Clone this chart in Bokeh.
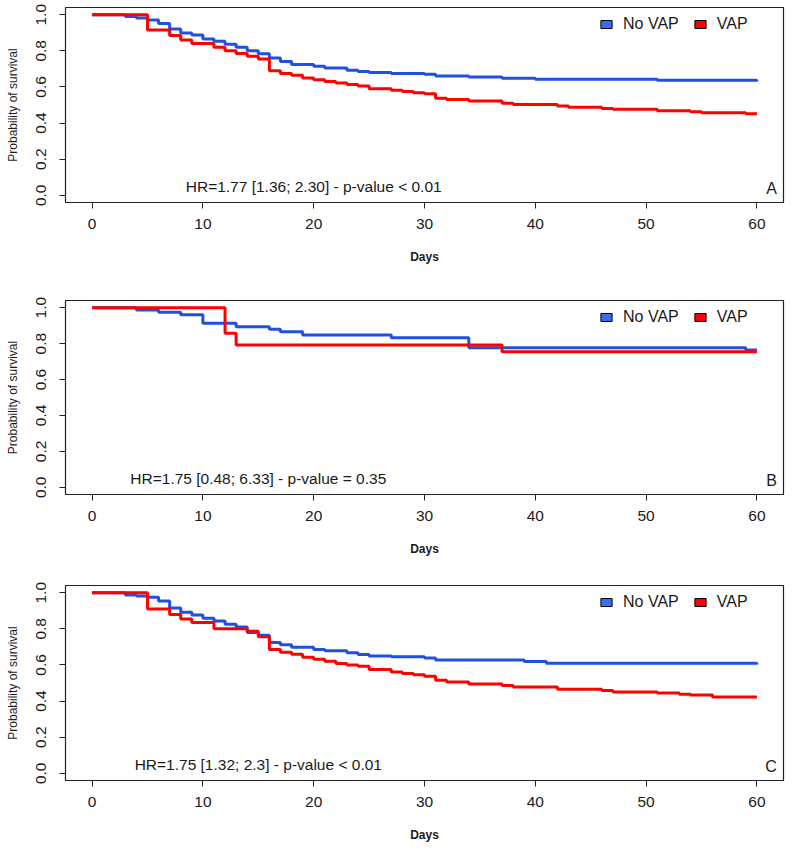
from bokeh.plotting import figure
from bokeh.models import Range1d, Label, Legend, LegendItem, FixedTicker
from bokeh.layouts import column
from bokeh.embed import file_html
from bokeh.resources import INLINE

# ---------------- data ----------------
x_ticks = [0, 10, 20, 30, 40, 50, 60]
y_ticks = [0.0, 0.2, 0.4, 0.6, 0.8, 1.0]
y_tick_labels = ["0.0", "0.2", "0.4", "0.6", "0.8", "1.0"]
series_names = ["No VAP", "VAP"]

# Panel A
a_novap_days = [0, 3, 4, 5, 6, 7, 8, 9, 10, 11, 12, 13, 14, 15, 16, 17, 18, 20, 21, 23,
                24, 25, 27, 30, 31, 34, 37, 40, 51, 60]
a_novap_surv = [1.0, 0.99, 0.982, 0.971, 0.952, 0.921, 0.899, 0.888, 0.866, 0.853,
                0.837, 0.82, 0.80, 0.784, 0.76, 0.741, 0.725, 0.714, 0.705, 0.692,
                0.686, 0.68, 0.675, 0.670, 0.661, 0.655, 0.648, 0.642, 0.637, 0.63]
a_vap_days = [0, 5, 7, 8, 9, 11, 12, 13, 14, 15, 16, 17, 18, 19, 20, 21, 22, 23, 24, 25,
              27, 28, 29, 30, 31, 32, 34, 37, 38, 42, 43, 46, 47, 51, 54, 55, 59, 60]
a_vap_surv = [1.0, 0.915, 0.885, 0.86, 0.84, 0.82, 0.80, 0.785, 0.77, 0.755,
              0.69, 0.675, 0.665, 0.65, 0.64, 0.63, 0.622, 0.613, 0.605, 0.59,
              0.582, 0.575, 0.568, 0.562, 0.538, 0.53, 0.522, 0.51, 0.503, 0.495,
              0.488, 0.48, 0.476, 0.468, 0.462, 0.457, 0.451, 0.451]

# Panel B
b_novap_days = [0, 4, 6, 8, 10, 13, 16, 17, 19, 27, 34, 59, 60]
b_novap_surv = [1.0, 0.987, 0.974, 0.961, 0.913, 0.894, 0.88, 0.866, 0.848, 0.833,
                0.777, 0.764, 0.764]
b_vap_days = [0, 12, 13, 37, 60]
b_vap_surv = [1.0, 0.857, 0.792, 0.755, 0.755]

# Panel C
c_novap_days = [0, 3, 4, 5, 6, 7, 8, 9, 10, 11, 12, 13, 14, 15, 16, 17, 18, 20, 21, 23,
                24, 25, 27, 30, 31, 39, 41, 60]
c_novap_surv = [1.0, 0.988, 0.982, 0.975, 0.954, 0.915, 0.892, 0.876, 0.858, 0.843,
                0.826, 0.81, 0.78, 0.765, 0.725, 0.712, 0.698, 0.686, 0.678, 0.667,
                0.658, 0.65, 0.645, 0.639, 0.628, 0.619, 0.61, 0.602]
c_vap_days = [0, 5, 7, 8, 9, 11, 14, 15, 16, 17, 18, 19, 20, 21, 22, 23, 24, 25, 27, 28,
              29, 30, 31, 32, 34, 37, 38, 42, 46, 47, 51, 53, 54, 56, 60]
c_vap_surv = [1.0, 0.91, 0.88, 0.854, 0.835, 0.80, 0.787, 0.756, 0.686, 0.67,
              0.659, 0.642, 0.632, 0.62, 0.608, 0.6, 0.593, 0.575, 0.561, 0.552,
              0.546, 0.538, 0.515, 0.506, 0.495, 0.486, 0.478, 0.465, 0.459, 0.45,
              0.444, 0.438, 0.433, 0.423, 0.423]

hr_texts = ["HR=1.77 [1.36; 2.30] - p-value < 0.01",
            "HR=1.75 [0.48; 6.33] - p-value = 0.35",
            "HR=1.75 [1.32; 2.3] - p-value < 0.01"]
panel_letters = ["A", "B", "C"]

# ---------------- styling ----------------
BLUE = "#1f50e2"
BLUE_KEY = "#3b6cf2"
RED = "#ff0000"
FONT = "Liberation Sans"
TXT = "#1a1a1a"
FIG_W = 789
FRAME_W = 718
BORDER_L = 65
NAN = float("nan")


def make_panel(letter, hr_text, hr_x, nv_d, nv_s, v_d, v_s, height, border_top, frame_h):
    p = figure(width=FIG_W, height=height,
               x_range=Range1d(-2.4, 62.4), y_range=Range1d(-0.04, 1.04),
               output_backend="svg", toolbar_location=None,
               min_border_left=BORDER_L, min_border_right=FIG_W - BORDER_L - FRAME_W,
               min_border_top=border_top, min_border_bottom=height - border_top - frame_h)
    p.xgrid.visible = False
    p.ygrid.visible = False
    p.outline_line_color = "#222222"
    p.outline_line_width = 1.2
    p.background_fill_color = "white"
    p.border_fill_color = "white"

    # axes
    p.xaxis.ticker = FixedTicker(ticks=x_ticks)
    p.yaxis.ticker = FixedTicker(ticks=y_ticks)
    p.yaxis.major_label_overrides = {t: l for t, l in zip(y_ticks, y_tick_labels)}
    for ax in (p.xaxis, p.yaxis):
        ax.axis_line_color = "#222222"
        ax.major_tick_line_color = "#222222"
        ax.major_tick_out = 6
        ax.major_tick_in = 0
        ax.minor_tick_line_color = None
        ax.major_label_text_font = FONT
        ax.major_label_text_font_size = "15.5px"
        ax.major_label_text_color = TXT
        ax.axis_label_text_font = FONT
        ax.axis_label_text_color = TXT
    p.xaxis.major_label_standoff = 10
    p.xaxis.axis_label = "Days"
    p.xaxis.axis_label_text_font_size = "12px"
    p.xaxis.axis_label_text_font_style = "bold"
    p.xaxis.axis_label_standoff = 18
    p.yaxis.major_label_orientation = "vertical"
    p.yaxis.major_label_standoff = 13
    p.yaxis.axis_label = "Probability of survival"
    p.yaxis.axis_label_text_font_size = "12px"
    p.yaxis.axis_label_text_font_style = "normal"
    p.yaxis.axis_label_standoff = 14

    # curves
    p.step(nv_d, nv_s, mode="after", line_color=BLUE, line_width=3)
    p.step(v_d, v_s, mode="after", line_color=RED, line_width=3)

    # legend keys (NaN quads, used only for the legend swatches)
    k1 = p.quad(left=[NAN], right=[NAN], top=[NAN], bottom=[NAN], fill_color=BLUE_KEY,
                line_color="black", line_width=1)
    k2 = p.quad(left=[NAN], right=[NAN], top=[NAN], bottom=[NAN], fill_color=RED,
                line_color="black", line_width=1)
    legend = Legend(items=[LegendItem(label=series_names[0], renderers=[k1]),
                           LegendItem(label=series_names[1], renderers=[k2])],
                    orientation="horizontal", location=(534, frame_h - 26),
                    padding=0, margin=0, spacing=14, label_standoff=10,
                    glyph_width=14, glyph_height=10,
                    label_text_font=FONT, label_text_font_size="16px",
                    label_text_color=TXT,
                    background_fill_alpha=0, border_line_color=None)
    p.add_layout(legend)

    p.add_layout(Label(x=hr_x, y=0.05, text=hr_text, text_align="center",
                       text_baseline="middle", text_font=FONT,
                       text_font_size="15.5px", text_color=TXT))
    p.add_layout(Label(x=61.8, y=0.04, text=letter, text_align="right",
                       text_baseline="middle", text_font=FONT,
                       text_font_size="16px", text_color=TXT))
    return p


pA = make_panel(panel_letters[0], hr_texts[0], 20, a_novap_days, a_novap_surv,
                a_vap_days, a_vap_surv, height=290, border_top=7, frame_h=195)
pB = make_panel(panel_letters[1], hr_texts[1], 15, b_novap_days, b_novap_surv,
                b_vap_days, b_vap_surv, height=285, border_top=10, frame_h=194)
pC = make_panel(panel_letters[2], hr_texts[2], 15, c_novap_days, c_novap_surv,
                c_vap_days, c_vap_surv, height=274, border_top=10, frame_h=195)

layout = column(pA, pB, pC, spacing=0)
open("out.html", "w").write(file_html(layout, INLINE))
